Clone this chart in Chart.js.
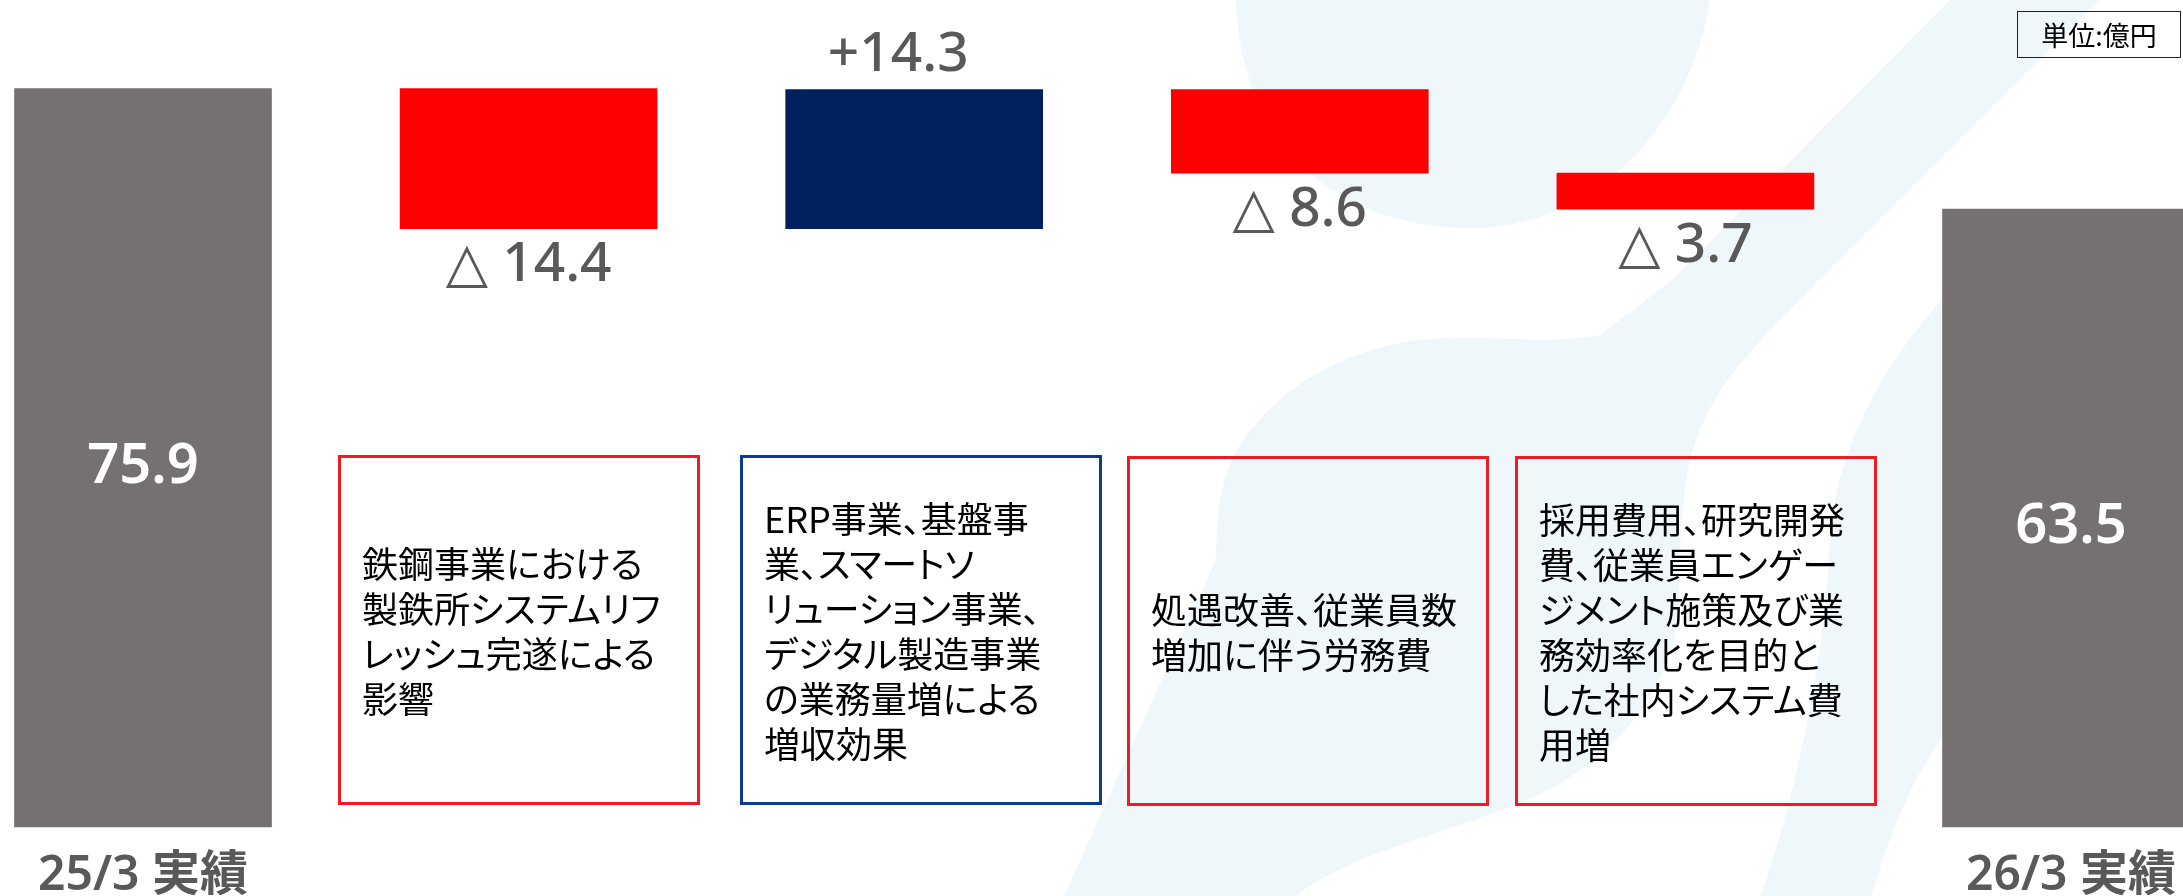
<!DOCTYPE html>
<html lang="ja">
<head>
<meta charset="utf-8">
<title>営業利益 増減要因</title>
<script src="https://cdn.jsdelivr.net/npm/chart.js@4.4.1/dist/chart.umd.min.js"></script>
<style>
  html, body { margin: 0; padding: 0; background: #ffffff; }
  body { width: 2183px; height: 896px; overflow: hidden; position: relative; }
  #bg { position: absolute; left: 0; top: 0; }
  #c { position: absolute; left: 0; top: 0; }
  .note {
    position: absolute; box-sizing: border-box; width: 362px; height: 350px;
    border: 3px solid #EB1C24; display: flex; align-items: center;
    padding-left: 21px; font-family: "Noto Sans CJK JP", sans-serif;
    font-size: 36px; line-height: 45px; color: #000; white-space: nowrap;
    font-feature-settings: "palt";
  }
  .note.blue { border-color: #0A3C96; }
  #unit {
    position: absolute; left: 2017px; top: 11px; width: 164px; height: 47px;
    box-sizing: border-box; border: 1.5px solid #222; display: flex;
    align-items: center; justify-content: center;
    font-family: "Noto Sans CJK JP", sans-serif; font-size: 27px; color: #000;
    font-feature-settings: "palt";
  }
</style>
</head>
<body>
<svg id="bg" width="2183" height="896" viewBox="0 0 2183 896">
  <g fill="#EFF7FB">
    <path d="M1236,0 C1240,140 1330,228 1473,228 C1590,228 1690,130 1710,0 Z"/>
    <path d="M1950,0 L2099,0 L1819,280 C1740,360 1700,400 1686,480 C1678,540 1680,580 1679,610 C1670,700 1600,780 1493,813 C1420,840 1340,860 1296,896 L1064,896 L1216,560 C1216,500 1225,460 1251,430 C1290,380 1360,340 1447,338 C1500,336 1550,345 1600,335 L1672,280 Z"/>
    <path d="M1941,300 C1880,370 1836,450 1830,540 C1824,660 1800,780 1761,896 L1872,896 C1890,830 1912,780 1941,740 Z"/>
  </g>
</svg>
<canvas id="c" width="2183" height="896"></canvas>

<div class="note" style="left:338px; top:455px;">鉄鋼事業における<br>製鉄所システムリフ<br>レッシュ完遂による<br>影響</div>
<div class="note blue" style="left:740px; top:455px;">ERP事業、基盤事<br>業、スマートソ<br>リューション事業、<br>デジタル製造事業<br>の業務量増による<br>増収効果</div>
<div class="note" style="left:1127px; top:456px;">処遇改善、従業員数<br>増加に伴う労務費</div>
<div class="note" style="left:1515px; top:456px;">採用費用、研究開発<br>費、従業員エンゲー<br>ジメント施策及び業<br>務効率化を目的と<br>した社内システム費<br>用増</div>
<div id="unit">単位:億円</div>

<script>
// ---- data ----
const categories = ['25/3 実績', '鉄鋼事業', 'ERP等', '処遇改善', '社内システム', '26/3 実績'];
const tickLabels = ['25/3 実績', '', '', '', '', '26/3 実績'];
const startValue = 75.9;
const deltas = [-14.4, 14.3, -8.6, -3.7];
const endValue = 63.5;

// ---- build floating bars from the data ----
const ranges = [];
const kinds = [];
const shown = [];
ranges.push([0, startValue]); kinds.push('total'); shown.push(startValue);
let level = startValue;
deltas.forEach(d => {
  const next = Math.round((level + d) * 10) / 10;
  ranges.push([level, next]); kinds.push(d < 0 ? 'down' : 'up'); shown.push(d);
  level = next;
});
ranges.push([0, endValue]); kinds.push('total'); shown.push(endValue);

const colorFor = k => k === 'total' ? '#767171' : (k === 'down' ? '#FF0000' : '#002060');

const labelPlugin = {
  id: 'wfLabels',
  afterDatasetsDraw(chart) {
    const ctx = chart.ctx;
    const meta = chart.getDatasetMeta(0);
    const xs = chart.scales.x;
    meta.data.forEach((bar, i) => {
      const p = bar.getProps(['x', 'y', 'base'], true);
      const top = Math.min(p.y, p.base), bottom = Math.max(p.y, p.base);
      ctx.save();
      ctx.textAlign = 'center';
      ctx.textBaseline = 'alphabetic';
      if (kinds[i] === 'total') {
        const fs = 56;
        ctx.font = `600 ${fs}px "Noto Sans", "Noto Sans CJK JP", sans-serif`;
        ctx.fillStyle = '#ffffff';
        ctx.fillText(shown[i].toFixed(1), p.x, (top + bottom) / 2 + 5 + 0.357 * fs);
      } else {
        const fs = 55;
        ctx.font = `500 ${fs}px "Noto Sans", "DejaVu Sans", "Noto Sans CJK JP", sans-serif`;
        ctx.fillStyle = '#595959';
        if (shown[i] < 0) {
          ctx.fillText('△ ' + Math.abs(shown[i]).toFixed(1), p.x, bottom + 33 + 0.357 * fs);
        } else {
          ctx.fillText('+' + shown[i].toFixed(1), p.x - 16, top - 38 + 0.357 * fs);
        }
      }
      // category tick label under the axis
      if (tickLabels[i]) {
        const fs = 48;
        ctx.font = `600 ${fs}px "Noto Sans", "Noto Sans CJK JP", sans-serif`;
        ctx.fillStyle = '#595959';
        ctx.fillText(tickLabels[i], xs.getPixelForValue(i), chart.chartArea.bottom + 46 + 0.357 * fs);
      }
      ctx.restore();
    });
  }
};

new Chart(document.getElementById('c'), {
  type: 'bar',
  data: {
    labels: categories,
    datasets: [{
      data: ranges,
      backgroundColor: kinds.map(colorFor),
      borderWidth: 0,
      barThickness: 257,
      clip: false
    }]
  },
  options: {
    responsive: false,
    animation: false,
    events: [],
    layout: { padding: { left: 143, right: 112, top: 0, bottom: 69 } },
    plugins: { legend: { display: false }, tooltip: { enabled: false } },
    scales: {
      x: { display: false, offset: false },
      y: { display: false, min: 0, max: 85 }
    }
  },
  plugins: [labelPlugin]
});
</script>
</body>
</html>
